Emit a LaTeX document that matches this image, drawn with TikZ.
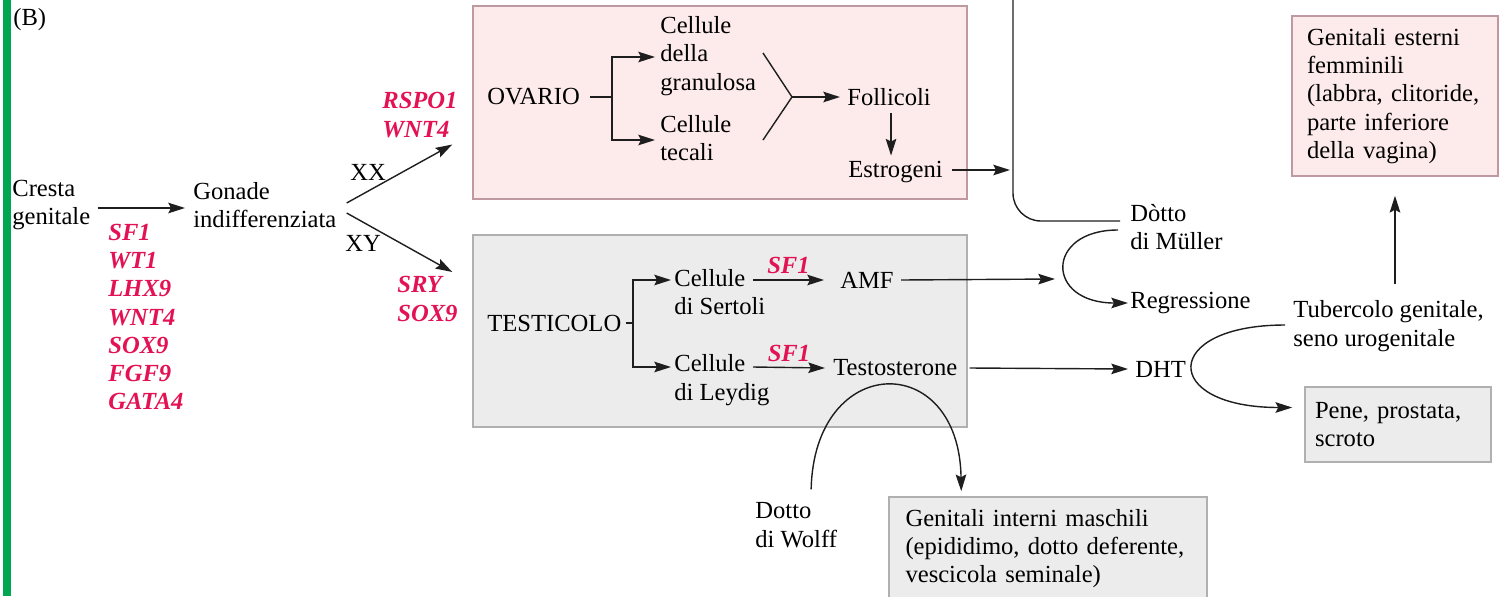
\documentclass[tikz,border=0pt]{standalone}
\usepackage{fontspec}
\setmainfont{Liberation Serif}
\usetikzlibrary{arrows.meta,calc}

\definecolor{genered}{RGB}{226,18,84}
\definecolor{ovfill}{RGB}{253,235,235}
\definecolor{ovline}{RGB}{192,152,162}
\definecolor{tefill}{RGB}{236,236,236}
\definecolor{teline}{RGB}{176,176,176}
\definecolor{bargreen}{RGB}{0,166,81}
\definecolor{ink}{RGB}{30,30,30}

\begin{document}
\begin{tikzpicture}[x=0.02cm,y=-0.02cm]

\def\fnt{\fontsize{14}{16.1}\selectfont}
\def\boxw{9.88cm}
\def\lw{0.8pt}

\tikzset{txt/.style = {anchor=west, align=left, inner sep=0pt, font=\fnt}}
\tikzset{gene/.style = {txt, text=genered, font=\fnt\bfseries\itshape}}
\tikzset{arr/.style = {draw=ink, line width=\lw, -{Stealth[length=9.5pt,width=6pt,inset=1.5pt]}}}
\tikzset{ln/.style = {draw=ink, line width=\lw}}
\tikzset{ovbox/.style = {draw=ovline, fill=ovfill, line width=0.9pt}}
\tikzset{tebox/.style = {draw=teline, fill=tefill, line width=0.9pt}}
\tikzset{tbox/.style = {align=left, inner ysep=0pt, font=\fnt}}

\useasboundingbox (0,0) rectangle (1499,596);
\fill[bargreen] (3,0) rectangle (11,596);

% boxes
\node[ovbox, inner sep=0pt, minimum width=\boxw, minimum height=3.86cm] (ov) at (720,102.5) {};
\node[tebox, inner sep=0pt, minimum width=\boxw, minimum height=3.84cm] (te) at (720,331) {};

\node[ovbox, tbox, text width=3.52cm, inner xsep=0.3cm, minimum height=3.2cm] (gef) at (1395,96)
  {Genitali esterni\\femminili\\(labbra, clitoride,\\parte inferiore\\della vagina)};
\node[tebox, tbox, text width=3.32cm, inner xsep=0.2cm, minimum height=1.5cm] (pene) at (1398,424.5)
  {Pene, prostata,\\scroto};
\node[tebox, tbox, text width=5.7cm, inner xsep=0.33cm, minimum height=2.06cm] (gim) at (1048,548.5)
  {Genitali interni maschili\\(epididimo, dotto deferente,\\vescicola seminale)};

% gonade
\node[txt] (B) at (13,20) {(B)};
\node[txt] (cresta) at (12,205) {Cresta\\genitale};
\node[txt] (gonade) at (193,205) {Gonade\\indifferenziata};
\node[gene] (gcr) at (108,317) {SF1\\WT1\\LHX9\\WNT4\\SOX9\\FGF9\\GATA4};

\draw[arr] ($(cresta.east)+(7,3)$) -- ($(gonade.west)+(-8,3)$);

% XX / XY
\node[txt] (xx) at (350,172) {XX};
\node[txt] (xy) at (345,243) {XY};
\node[gene] (gxx) at (382,115) {RSPO1\\WNT4};
\node[gene] (gxy) at (397,299) {SRY\\SOX9};

\draw[arr] ($(gonade.east)+(10,-2)$) -- ($(ov.west)+(-20,42)$);
\draw[arr] ($(gonade.east)+(10,8)$) -- ($(te.west)+(-20,-59)$);

% ovario
\node[txt] (ovario) at (487,97) {OVARIO};
\coordinate (obr) at (612,97);
\node[txt] (gran) at (660,56) {Cellule\\della\\granulosa};
\node[txt] (teca) at (660,138) {Cellule\\tecali};

\draw[ln] ($(ovario.east)+(10,0)$) -- (obr);
\draw[arr] (obr) |- ($(gran.west)+(-5,1)$);
\draw[arr] (obr) |- ($(teca.west)+(-5,2)$);

\coordinate (mrg) at (792,97);
\node[txt] (foll) at (847,97) {Follicoli};
\node[txt] (estr) at (848,172) {Estrogeni};

\draw[ln] ($(mrg)+(-29,-44)$) -- (mrg) -- ($(mrg)+(-29,43)$);
\draw[arr] (mrg) -- ($(foll.west)+(-7,0)$);
\draw[arr, shorten >=3pt] ($(foll.south)+(2,7)$) coordinate (fa) -- (fa |- estr.north);

% Muller
\coordinate (mtop) at (1013,-5);
\node[txt] (mull) at (1130,227) {Dòtto\\di Müller};
\node[txt] (regr) at (1130,303) {Regressione};

\draw[arr] ($(estr.east)+(9,-2)$) -- ($(mtop |- estr.east)+(-3,-2)$);
\draw[ln, rounded corners=0.56cm] (mtop) |- ($(mull.west)+(-10,-6)$);
\draw[arr] ($(mull.west)+(-12,3)$) .. controls ($(mull.west)+(-85,3)$) and ($(regr.west)+(-85,0)$) .. ($(regr.west)+(-2,0)$);

% testicolo
\node[txt] (test) at (487,323) {TESTICOLO};
\coordinate (tbr) at (633,323);
\node[txt] (sert) at (674,292) {Cellule\\di Sertoli};
\node[txt] (leyd) at (674,380) {Cellule\\di Leydig};
\node[txt] (amf) at (840,280) {AMF};
\node[txt] (testo) at (833,368) {Testosterone};
\node[txt] (dht) at (1135,369) {DHT};

\draw[ln] ($(test.east)+(4,0)$) -- (tbr);
\draw[arr] (tbr) |- ($(sert.west)+(-3,-12)$);
\draw[arr] (tbr) |- ($(leyd.west)+(-3,-13)$);

\draw[arr] ($(sert.west)+(79,-12)$) -- node[gene, above=3pt] (sf1a) {SF1} ($(amf.west)+(-16,0)$);
\draw[arr] ($(leyd.west)+(79,-13)$) -- node[gene, above=3pt] (sf1b) {SF1} ($(testo.west)+(-8,0)$);

\draw[arr] ($(amf.east)+(7,0)$) -- ($(regr.west)+(-75,-24)$);
\draw[arr] ($(testo.east)+(12,0)$) -- ($(dht.west)+(-7,0)$);

% Wolff
\node[txt] (wolff) at (755,525) {Dotto\\di Wolff};

\draw[arr] ($(wolff.north)+(15,-13)$) .. controls ($(wolff.north)+(18,-150)$) and ($(gim.north west)+(71,-147)$) .. ($(gim.north west)+(73,-5)$);

% tubercolo
\node[txt] (tub) at (1293,326) {Tubercolo genitale,\\seno urogenitale};

\draw[arr] ($(tub.west)+(-8,-1)$) .. controls ($(tub.west)+(-132,-1)$) and ($(pene.west)+(-144,-17)$) .. ($(pene.west)+(-12,-17)$);
\draw[arr] ($(tub.north -| gef.south)+(0,-16)$) -- ($(gef.south)+(0,19)$);

\end{tikzpicture}
\end{document}
